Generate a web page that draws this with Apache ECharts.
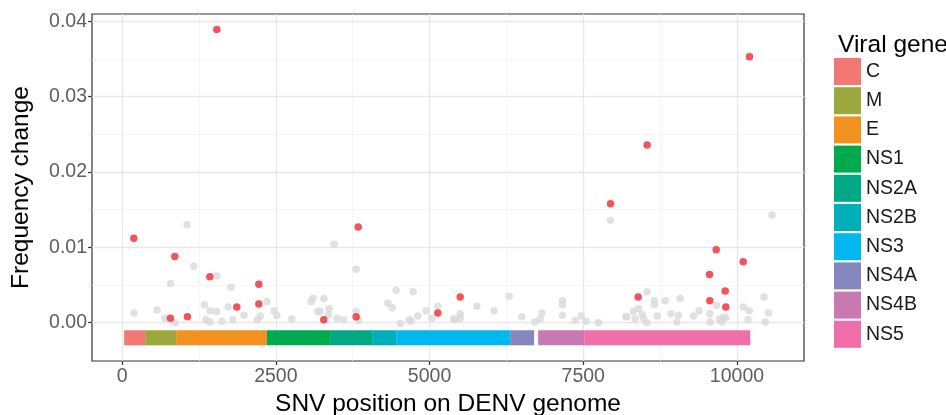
<!DOCTYPE html>
<html>
<head>
<meta charset="utf-8">
<script src="https://cdn.jsdelivr.net/npm/echarts@6/dist/echarts.min.js"></script>
<style>
html,body{margin:0;padding:0;background:#fff;}
#chart{width:946px;height:415px;}
</style>
</head>
<body>
<div id="chart"></div>
<script>
// ---- data ----
const genes = ['C','M','E','NS1','NS2A','NS2B','NS3','NS4A','NS4B','NS5'];
const geneStart = [33, 374, 878, 2354, 3395, 4066, 4457, 6311, 6766, 7515];
const geneEnd   = [374, 878, 2354, 3395, 4066, 4457, 6311, 6701, 7515, 10215];
const geneBarTop = -0.001;
const geneBarBottom = -0.003;

const redX = [190, 857, 1426, 2223, 2223, 1865, 786, 1062, 1540, 3839, 3280, 3806, 5134, 5498, 7943, 8539, 10203, 9662, 10101, 9553, 9808, 8393, 9559, 9819];
const redY = [0.0112, 0.0088, 0.0061, 0.0051, 0.0025, 0.0021, 0.0006, 0.0008, 0.0389, 0.0127, 0.0004, 0.0008, 0.0013, 0.0034, 0.0158, 0.0236, 0.0353, 0.0097, 0.0081, 0.0064, 0.0042, 0.0034, 0.0029, 0.0021];

const greyX = [195, 569, 699, 862, 786, 1057, 1166, 1540, 1768, 1339, 1431, 1534, 1724, 1361, 1431, 1621, 1800, 1984, 2201, 2245, 2353, 2472, 2516, 2760,
  3448, 3806, 4457, 4733, 3101, 3074, 3280, 4321, 4392, 3183, 3220, 3367, 3356, 3497, 3600, 3806, 3844, 4527, 4673, 4700, 4809, 4945, 5037, 5134, 5389,
  7943, 6295, 5769, 6051, 5498, 5498, 5416, 6501, 6713, 6799, 6827, 7162, 7162, 7162, 7368, 7466, 7547, 7747, 8193,
  10567, 8539, 8653, 8658, 8832, 9076, 10442, 8398, 8317, 8209, 8344, 8458, 8480, 8535, 8702, 8930, 9048, 9022, 9293, 9385, 9559, 9559, 9667, 9716, 9781, 9819, 9755, 10101, 10199, 10178, 10513, 10459];
const greyY = [0.0013, 0.0017, 0.0006, 0.0000, 0.0052, 0.0130, 0.0075, 0.0062, 0.0047, 0.0024, 0.0016, 0.0015, 0.0021, 0.0004, 0.0001, 0.0002, 0.0004, 0.0010, 0.0004, 0.0009, 0.0028, 0.0016, 0.0010, 0.0005,
  0.0104, 0.0071, 0.0043, 0.0041, 0.0032, 0.0028, 0.0032, 0.0026, 0.0020, 0.0015, 0.0015, 0.0019, 0.0011, 0.0006, 0.0004, 0.0015, 0.0003, -0.0001, 0.0004, 0.0002, 0.0009, 0.0016, 0.0006, 0.0022, 0.0005,
  0.0136, 0.0035, 0.0022, 0.0016, 0.0012, 0.0006, 0.0005, 0.0008, 0.0001, 0.0005, 0.0013, 0.0029, 0.0024, 0.0010, 0.0003, 0.0009, 0.0002, 0.0000, 0.0008,
  0.0143, 0.0041, 0.0029, 0.0024, 0.0029, 0.0032, 0.0034, 0.0019, 0.0015, 0.0008, 0.0005, 0.0011, 0.0006, 0.0000, 0.0009, 0.0012, 0.0010, 0.0001, 0.0009, 0.0016, 0.0012, 0.0001, 0.0023, 0.0005, 0.0007, 0.0007, 0.0001, 0.0021, 0.0016, 0.0004, 0.0013, 0.0001];

const xTicks = [0, 2500, 5000, 7500, 10000];
const xMinorTicks = [1250, 3750, 6250, 8750];
const yTicks = [0, 0.01, 0.02, 0.03, 0.04];
const yMinorTicks = [0.005, 0.015, 0.025, 0.035];
const xLimits = [-490, 11090];
const yLimits = [-0.00508, 0.04097];

// ---- styles ----
const geneColors = ['#F17873','#9CA73D','#F19220','#00AA4E','#00A886','#00AFBA','#00B7EF','#8787C0','#C879B2','#F06EA9'];
const FONT = 'Liberation Sans, Arial, Helvetica, sans-serif';
const majorGrid = {color:'#e8e8e8', width:1.3};
const minorGrid = {color:'#f2f2f2', width:0.8};

const chart = echarts.init(document.getElementById('chart'), null, {renderer:'canvas'});

const geneSeries = genes.map((g, i) => ({
  name: g,
  type: 'custom',
  xAxisIndex: 0, yAxisIndex: 0,
  itemStyle: {color: geneColors[i]},
  data: [[geneStart[i], geneEnd[i], geneBarTop, geneBarBottom]],
  renderItem: function(params, api) {
    const p1 = api.coord([api.value(0), api.value(2)]);
    const p2 = api.coord([api.value(1), api.value(3)]);
    return {type:'rect', shape:{x:p1[0], y:p1[1], width:p2[0]-p1[0], height:p2[1]-p1[1]},
      style:{fill: geneColors[i]}};
  },
  z: 2,
  silent: true
}));

const option = {
  animation: false,
  backgroundColor: '#fff',
  textStyle: {fontFamily: FONT},
  title: {text:'Viral gene', left: 833, top: 28,
    textStyle:{fontSize:24.5, fontWeight:'normal', color:'#000', fontFamily: FONT}},
  legend: {
    orient:'vertical', left: 834, top: 58, padding: 0,
    itemWidth: 27, itemHeight: 27, itemGap: 2.2,
    icon: 'rect',
    data: genes,
    selectedMode: false,
    textStyle: {fontSize: 19.5, color:'#1a1a1a', fontFamily: FONT}
  },
  grid: {left: 92, top: 14, width: 712, height: 347, containLabel: false, outerBoundsMode: 'none',
    show: true, borderColor:'#333', borderWidth: 1.2, backgroundColor:'transparent'},
  xAxis: [
    {type:'value', min: xLimits[0], max: xLimits[1], position:'bottom',
     name:'SNV position on DENV genome', nameLocation:'middle', nameGap: 30,
     nameTextStyle:{fontSize:24.5, color:'#000', fontFamily: FONT},
     axisLine:{show:false, onZero:false},
     axisTick:{show:true, length:4, lineStyle:{color:'#333', width:1.2}, customValues: xTicks},
     axisLabel:{customValues: xTicks, fontSize:19.5, color:'#5e5e5e', margin:6, fontFamily: FONT,
       formatter: v => String(v)},
     splitLine:{show:true, lineStyle: majorGrid}},
    {type:'value', min: xLimits[0], max: xLimits[1], position:'top',
     axisLine:{show:false, onZero:false}, axisLabel:{show:false},
     axisTick:{show:false, customValues: xMinorTicks},
     splitLine:{show:true, lineStyle: minorGrid}}
  ],
  yAxis: [
    {type:'value', min: yLimits[0], max: yLimits[1], position:'left',
     name:'Frequency change', nameLocation:'middle', nameGap: 58, nameRotate: 90,
     nameTextStyle:{fontSize:24.5, color:'#000', fontFamily: FONT},
     axisLine:{show:false, onZero:false},
     axisTick:{show:true, length:4, lineStyle:{color:'#333', width:1.2}, customValues: yTicks},
     axisLabel:{customValues: yTicks, fontSize:19.5, color:'#5e5e5e', margin:5, fontFamily: FONT,
       formatter: v => v.toFixed(2)},
     splitLine:{show:true, lineStyle: majorGrid}},
    {type:'value', min: yLimits[0], max: yLimits[1], position:'right',
     axisLine:{show:false, onZero:false}, axisLabel:{show:false},
     axisTick:{show:false, customValues: yMinorTicks},
     splitLine:{show:true, lineStyle: minorGrid}}
  ],
  series: [
    ...geneSeries,
    {name:'grey', type:'scatter', xAxisIndex:0, yAxisIndex:0, symbol:'circle', symbolSize:7.5,
     itemStyle:{color:'#dadadc'}, data: greyX.map((x, i) => [x, greyY[i]]), z:3, silent:true},
    {name:'red', type:'scatter', xAxisIndex:0, yAxisIndex:0, symbol:'circle', symbolSize:7.5,
     itemStyle:{color:'#eb2a31'}, data: redX.map((x, i) => [x, redY[i]]), z:4, silent:true}
  ]
};
chart.setOption(option);
</script>
</body>
</html>
